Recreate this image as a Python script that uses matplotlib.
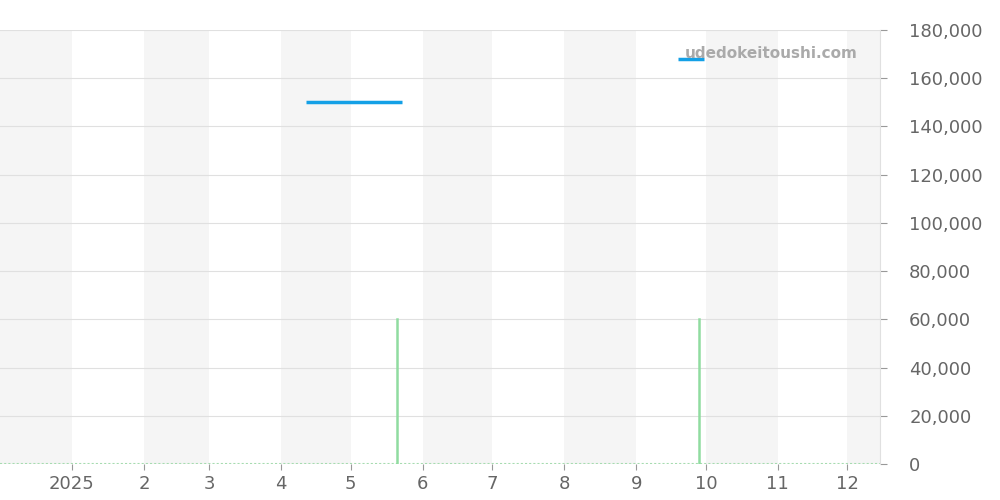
import matplotlib
matplotlib.use("Agg")
import matplotlib.pyplot as plt
import matplotlib.dates as mdates
import matplotlib.ticker as mticker
from datetime import datetime

# price segments (start, end, price)
seg_start = ["2025-04-12", "2025-09-19"]
seg_end = ["2025-05-23", "2025-09-30"]
seg_price = [150000, 168000]

# volume bars
vol_dates = ["2025-05-21", "2025-09-28"]
vol_values = [60000, 60000]

month_ticks = ["2025-01-01", "2025-02-01", "2025-03-01", "2025-04-01", "2025-05-01", "2025-06-01",
               "2025-07-01", "2025-08-01", "2025-09-01", "2025-10-01", "2025-11-01", "2025-12-01"]
month_labels = ["2025", "2", "3", "4", "5", "6", "7", "8", "9", "10", "11", "12"]

d = lambda s: datetime.strptime(s, "%Y-%m-%d")

fig = plt.figure(figsize=(10, 5), dpi=100)
ax = fig.add_axes([0, 0.072, 0.88, 0.868])

x0, x1 = d("2024-12-01"), d("2025-12-15")
ax.set_xlim(x0, x1)
ax.set_ylim(0, 180000)

# alternating month bands
band_starts = ["2024-12-01", "2025-02-01", "2025-04-01", "2025-06-01", "2025-08-01", "2025-10-01", "2025-12-01"]
band_ends = ["2025-01-01", "2025-03-01", "2025-05-01", "2025-07-01", "2025-09-01", "2025-11-01", "2026-01-01"]
for s, e in zip(band_starts, band_ends):
    ax.axvspan(d(s), d(e), color="#f5f5f5", zorder=0, lw=0)

ax.yaxis.grid(True, color="#e0e0e0", lw=0.8, zorder=1)
ax.set_axisbelow(True)

# baseline of volume
ax.plot([x0, x1], [0, 0], color="#a6dcb0", lw=1.5, ls=(0, (1, 1)), zorder=2)

for vd, vv in zip(vol_dates, vol_values):
    ax.plot([d(vd), d(vd)], [0, vv], color="#90dca0", lw=1.8, zorder=3)

for s, e, p in zip(seg_start, seg_end, seg_price):
    ax.plot([d(s), d(e)], [p, p], color="#14a0e6", lw=2.5, solid_capstyle="butt", zorder=4)

ax.yaxis.tick_right()
ax.yaxis.set_major_locator(mticker.MultipleLocator(20000))
ax.yaxis.set_major_formatter(mticker.FuncFormatter(lambda v, p: f"{int(v):,}"))
ax.set_xticks([d(m) for m in month_ticks])
ax.set_xticklabels(month_labels)
ax.tick_params(axis="both", colors="#999999", labelcolor="#666666", labelsize=13, length=5, width=0.8)
ax.tick_params(axis="y", pad=16)
ax.tick_params(axis="x", length=4, pad=4)

for sp in ax.spines.values():
    sp.set_visible(False)
ax.spines["right"].set_visible(True)
ax.spines["right"].set_color("#e0e0e0")

ax.text(0.975, 0.945, "udedokeitoushi.com", transform=ax.transAxes, ha="right", va="center",
        fontsize=11, fontweight="bold", color="#aaaaaa", zorder=5)

fig.savefig("out.png", dpi=100)
